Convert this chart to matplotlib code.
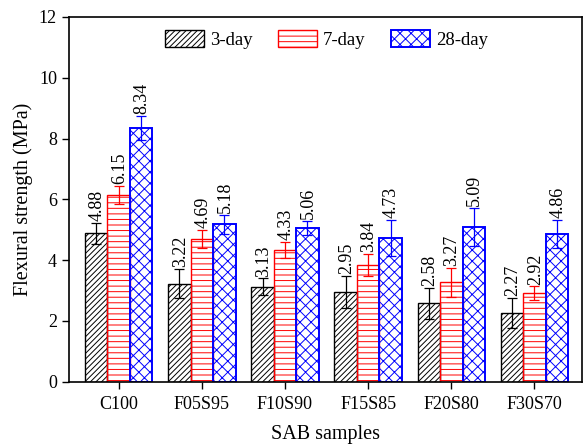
import numpy as np
import matplotlib
matplotlib.use("Agg")
import matplotlib.pyplot as plt

plt.rcParams['font.family'] = ['Liberation Serif', 'DejaVu Serif']
plt.rcParams['hatch.linewidth'] = 0.7

samples = ['C100', 'F05S95', 'F10S90', 'F15S85', 'F20S80', 'F30S70']
day3 = [4.88, 3.22, 3.13, 2.95, 2.58, 2.27]
day7 = [6.15, 4.69, 4.33, 3.84, 3.27, 2.92]
day28 = [8.34, 5.18, 5.06, 4.73, 5.09, 4.86]
err3 = [0.35, 0.48, 0.27, 0.53, 0.50, 0.50]
err7 = [0.30, 0.30, 0.27, 0.37, 0.47, 0.22]
err28 = [0.40, 0.32, 0.22, 0.60, 0.62, 0.47]

fig, ax = plt.subplots(figsize=(5.83, 4.45), dpi=100)
fig.subplots_adjust(left=0.118, right=0.998, top=0.962, bottom=0.142)

x = np.arange(len(samples))
width = 0.27

series = [
    ('3-day', day3, err3, 'black', '//////', -width, 1.0),
    ('7-day', day7, err7, 'red', '---', 0, 1.0),
    ('28-day', day28, err28, 'blue', 'xxx', width, 1.4),
]

for label, vals, errs, col, hatch, off, lw in series:
    ax.bar(x + off, vals, width, color='none', edgecolor=col, hatch=hatch,
           linewidth=lw, label=label)
    ax.errorbar(x + off, vals, yerr=errs, fmt='none', ecolor=col,
                elinewidth=0.9, capsize=3.5, capthick=0.9)
    for xi, v, e in zip(x + off, vals, errs):
        ax.text(xi + 0.01, v + e + 0.06, f'{v:.2f}', rotation=90,
                ha='center', va='bottom', fontsize=13)

ax.set_xlim(-0.6, 5.57)
ax.set_ylim(0, 12)
ax.set_yticks(range(0, 13, 2))
ax.set_xticks(x)
ax.set_xticklabels(samples)
ax.tick_params(labelsize=13, direction='out', length=5, width=1)
ax.tick_params(axis='x', pad=5)
ax.set_xlabel('SAB samples', fontsize=14.5, labelpad=9)
ax.set_ylabel('Flexural strength (MPa)', fontsize=14.5)
for s in ax.spines.values():
    s.set_linewidth(1.2)

ax.legend(loc='upper left', bbox_to_anchor=(0.187, 0.964), ncol=3, frameon=False,
          fontsize=13.5, handlelength=2.1, handleheight=1.0, handletextpad=0.32,
          columnspacing=1.33, borderpad=0, borderaxespad=0)

fig.savefig('out.png', dpi=100)
